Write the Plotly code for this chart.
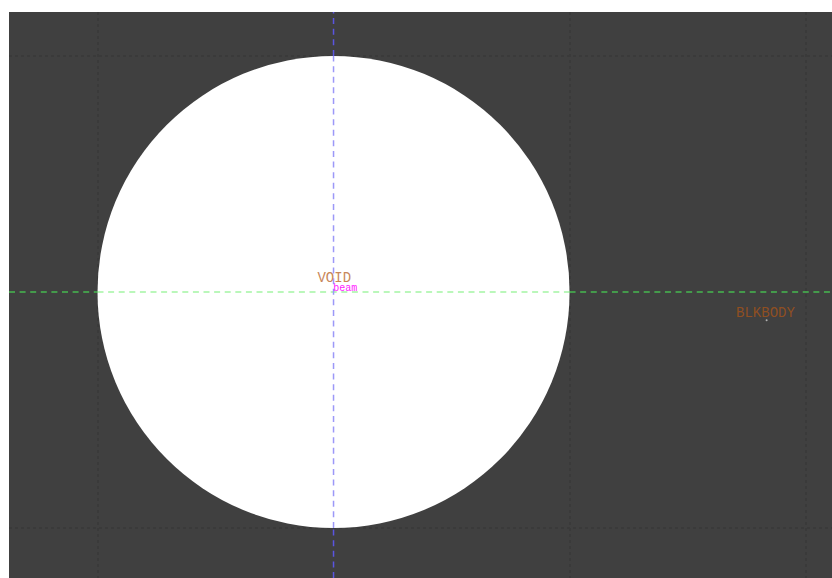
import plotly.graph_objects as go

radius = 10
x_range = [-13.75, 21.12]
y_range = [-12.12, 11.86]
x_grid = [-10, 10, 20]
y_grid = [-10, 10]
axis_x_in = [-radius, radius]
axis_x_out_left = [x_range[0], -radius]
axis_x_out_right = [radius, x_range[1]]
axis_y_in = [-radius, radius]
axis_y_out_top = [radius, y_range[1]]
axis_y_out_bottom = [y_range[0], -radius]
labels = ["VOID", "beam", "BLKBODY"]
label_x = [0.03, 0.5, 18.3]
label_y = [0.56, 0.14, -0.9]
label_colors = ["#c8875a", "#ff22ff", "#8f4f22"]
label_sizes = [14, 10, 14]
marker_x = [18.35]
marker_y = [-1.2]

BG = "#404040"
DASH = "6px,4.6px"
fig = go.Figure()

def seg(x, y, color):
    fig.add_trace(go.Scatter(x=x, y=y, mode="lines", hoverinfo="skip",
                             line=dict(color=color, width=1.5, dash=DASH)))

seg(axis_x_in, [0, 0], "#a4f5a4")
seg(axis_x_out_left, [0, 0], "#45b84f")
seg(axis_x_out_right, [0, 0], "#45b84f")
seg([0, 0], axis_y_in, "#9c98f8")
seg([0, 0], axis_y_out_top, "#5a55e0")
seg([0, 0], axis_y_out_bottom, "#5a55e0")

fig.add_trace(go.Scatter(x=marker_x, y=marker_y, mode="markers", hoverinfo="skip",
                         marker=dict(color="#b0b0b0", size=2)))
fig.add_trace(go.Scatter(x=label_x, y=label_y, mode="text",
                         text=labels, hoverinfo="skip",
                         textfont=dict(family="Liberation Mono", size=label_sizes, color=label_colors)))

fig.add_shape(type="circle", xref="x", yref="y", x0=-radius, x1=radius, y0=-radius, y1=radius,
              fillcolor="#ffffff", line=dict(width=0), layer="between")

grid = dict(showticklabels=False, ticks="", showgrid=True, gridcolor="#3a3a3a",
            gridwidth=1.5, griddash="dot", zeroline=False, showline=False)
fig.update_xaxes(range=x_range, tickvals=x_grid, **grid)
fig.update_yaxes(range=y_range, tickvals=y_grid, **grid)
fig.update_layout(width=832, height=578, autosize=False, showlegend=False,
                  margin=dict(l=9, r=0, t=12, b=0, pad=0),
                  paper_bgcolor="#ffffff", plot_bgcolor=BG)
fig.write_html("out.html", config={"displayModeBar": False}, post_script="document.body.style.margin='0';")
